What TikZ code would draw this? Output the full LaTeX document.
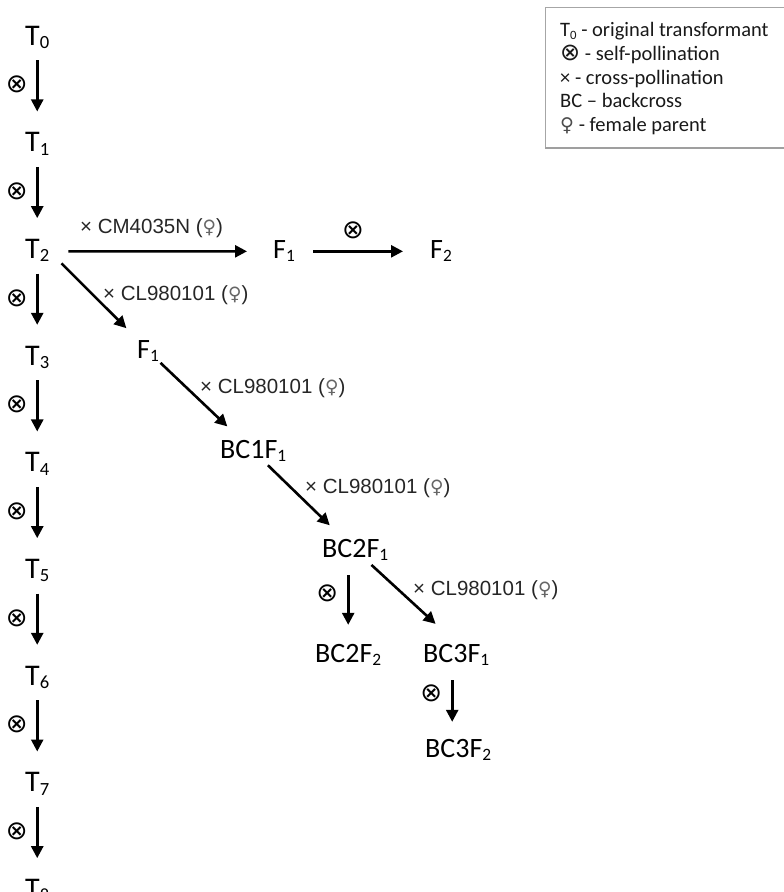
\documentclass[tikz,border=0pt]{standalone}
\usepackage{fontspec}
\setmainfont{Carlito}
\newfontfamily\arialf{Liberation Sans}
\newfontfamily\symf{DejaVu Sans}
\usetikzlibrary{arrows.meta}
\newcommand{\sbs}[1]{\raisebox{-0.12em}{\scalebox{0.62}{#1}}}
\newcommand{\fem}{{\symf\color{black!60}\scalebox{0.9}{♀}}}
\tikzset{
  tlab/.style={font=\fontsize{30}{30}\selectfont, inner sep=0pt, text height=19pt, text depth=5pt, anchor=base west},
  lab/.style={font=\fontsize{28}{28}\selectfont, inner sep=0pt, text height=19pt, text depth=5pt, anchor=base west},
  crosslab/.style={font=\arialf\fontsize{20.5}{20.5}\selectfont, inner sep=0pt, anchor=base west, text=black!85},
  selfs/.style={font=\symf\fontsize{26}{26}\selectfont, inner sep=0pt},
  leg/.style={font=\fontsize{20.5}{20.5}\selectfont, inner sep=0pt, anchor=base west, text=black!90},
  arr/.style={line width=2.6pt, -{Triangle[width=12pt,length=12pt]}}
}
\begin{document}
\begin{tikzpicture}[x=1pt,y=-1pt]
\useasboundingbox (0,0) rectangle (784,892);
\clip (0,0) rectangle (784,892);
% legend
\draw[gray!70, line width=1pt] (545,7) rectangle (800,148);
\draw[gray!75, line width=2.2pt] (545,148) -- (800,148);
\node[leg] (l1) at (560,36.7) {T\sbs{0} - original transformant};
\node[leg] (l2) at (560,60.4) {{\symf\fontsize{24}{24}\selectfont ⊗} - self-pollination};
\node[leg] (l3) at (560,84.1) {× - cross-pollination};
\node[leg] (l4) at (560,107.8) {BC – backcross};
\node[leg] (l5) at (560,131.5) {{\symf\fontsize{19}{19}\selectfont\color{black!70}♀} - female parent};
% T column
\foreach \i in {0,...,8}
  \node[tlab] (T\i) at (25,{45+106.67*\i}) {T\sbs{\i}};
\foreach \i [count=\j from 1] in {0,...,7}
  \draw[arr, shorten <=10pt, shorten >=21pt] (T\i) -- (T\j)
    node[selfs, pos=0.42, xshift=-20.5pt] (s\i) {⊗};
% other nodes
\node[lab] (F1a) at (273,258.33) {F\sbs{1}};
\node[lab] (F2) at (430,258.33) {F\sbs{2}};
\node[lab] (F1b) at (137,358) {F\sbs{1}};
\node[lab] (BC1F1) at (220,458) {BC1F\sbs{1}};
\node[lab] (BC2F1) at (322,557) {BC2F\sbs{1}};
\node[lab] (BC2F2) at (315,662) {BC2F\sbs{2}};
\node[lab] (BC3F1) at (423,662) {BC3F\sbs{1}};
\node[lab] (BC3F2) at (425,757) {BC3F\sbs{2}};
% arrows
\draw[arr, shorten <=19pt, shorten >=26pt] (T2) -- (F1a);
\draw[arr, shorten <=18pt, shorten >=27pt] (F1a) -- (F2)
  node[selfs, pos=0.43, yshift=21.5pt] (sF) {⊗};
\draw[arr, shorten <=17pt, shorten >=15pt] (T2.east) -- (F1b.north west);
\draw[arr, shorten <=2pt, shorten >=18pt] (F1b) -- (BC1F1);
\draw[arr, shorten <=3pt, shorten >=18pt] (BC1F1) -- (BC2F1);
\draw[arr, shorten <=4pt, shorten >=28pt] (BC2F1) -- (BC3F1.north);
\draw[arr, shorten <=13pt, shorten >=18pt] (BC2F1.south -| BC2F2) -- (BC2F2)
  node[selfs, pos=0.38, xshift=-21pt] (sB2) {⊗};
\draw[arr, shorten <=13pt, shorten >=16pt] ([xshift=-4pt]BC3F1.south) -- ([xshift=-4pt]BC3F1.south |- BC3F2.north)
  node[selfs, pos=0.37, xshift=-21pt] (sB3) {⊗};
% cross labels
\node[crosslab] (c1) at (80,233) {× CM4035N (\fem)};
\node[crosslab] (c2) at (103,300) {× CL980101 (\fem)};
\node[crosslab] (c3) at (200,393) {× CL980101 (\fem)};
\node[crosslab] (c4) at (305,493) {× CL980101 (\fem)};
\node[crosslab] (c5) at (413,595) {× CL980101 (\fem)};
\end{tikzpicture}
\end{document}
